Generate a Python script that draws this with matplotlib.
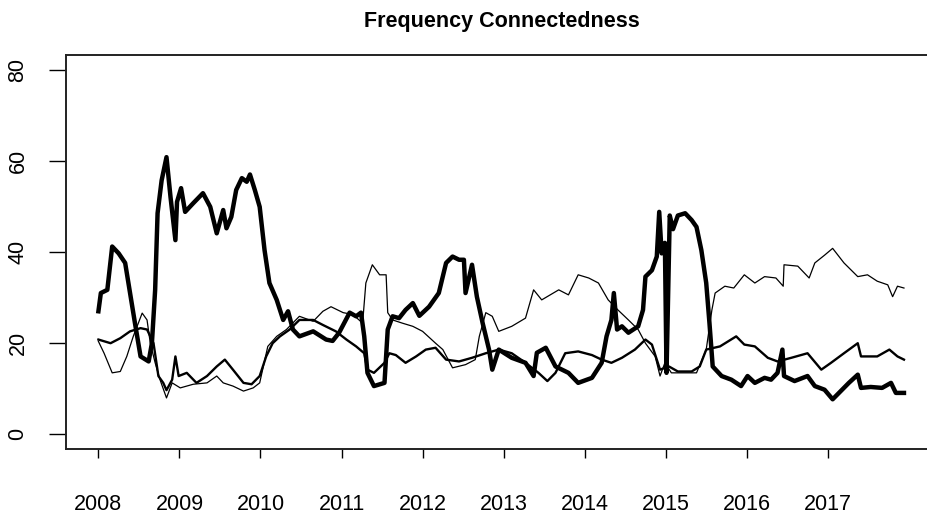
import matplotlib
matplotlib.use("Agg")
import matplotlib.pyplot as plt

plt.rcParams['font.family'] = ['Liberation Sans', 'DejaVu Sans']

# ---- data (decimal year, value) ----
thick_t = [2008.00, 2008.03, 2008.11, 2008.17, 2008.25, 2008.33, 2008.39, 2008.45, 2008.52, 2008.62,
           2008.66, 2008.70, 2008.73, 2008.78, 2008.84, 2008.89, 2008.95, 2008.97, 2009.02, 2009.07,
           2009.17, 2009.29, 2009.38, 2009.46, 2009.54, 2009.58, 2009.64, 2009.70, 2009.77, 2009.83,
           2009.87, 2009.93, 2009.99, 2010.05, 2010.11, 2010.20, 2010.28, 2010.34, 2010.40, 2010.48,
           2010.65, 2010.81, 2010.89, 2010.97, 2011.10, 2011.18, 2011.24, 2011.28, 2011.32, 2011.40,
           2011.53, 2011.57, 2011.63, 2011.71, 2011.79, 2011.88, 2011.96, 2012.08, 2012.20, 2012.29,
           2012.37, 2012.45, 2012.51, 2012.53, 2012.61, 2012.67, 2012.74, 2012.82, 2012.86, 2012.94,
           2013.10, 2013.27, 2013.37, 2013.41, 2013.52, 2013.64, 2013.80, 2013.92, 2014.09, 2014.21,
           2014.27, 2014.33, 2014.36, 2014.40, 2014.46, 2014.54, 2014.66, 2014.72, 2014.75, 2014.83,
           2014.89, 2014.92, 2014.95, 2014.99, 2015.01, 2015.05, 2015.09, 2015.15, 2015.24, 2015.32,
           2015.38, 2015.44, 2015.50, 2015.54, 2015.58, 2015.69, 2015.81, 2015.93, 2016.01, 2016.10,
           2016.22, 2016.30, 2016.38, 2016.44, 2016.46, 2016.59, 2016.75, 2016.84, 2016.96, 2017.06,
           2017.16, 2017.26, 2017.37, 2017.41, 2017.53, 2017.67, 2017.78, 2017.84, 2017.94]
thick_v = [27, 31, 31.7, 41.2, 39.7, 37.6, 31, 24.5, 17.1, 16,
           20, 31.7, 48.5, 55.7, 60.8, 52, 42.6, 51, 54, 48.8,
           50.7, 52.9, 49.9, 44.1, 49.2, 45.2, 47.7, 53.6, 56.2, 55.4,
           57, 53.6, 49.9, 40.4, 33.2, 29.5, 25.1, 27, 23, 21.5,
           22.6, 20.8, 20.5, 22.3, 26.7, 25.9, 26.7, 21.5, 13.5, 10.6,
           11.3, 23, 25.9, 25.5, 27.3, 28.8, 26, 28, 31, 37.6,
           39, 38.3, 38.3, 31, 37.2, 30.2, 24.5, 18.6, 14.2, 18.6,
           16.8, 15.7, 12.8, 17.9, 19, 14.9, 13.5, 11.3, 12.4, 15.7,
           21.5, 25.1, 31, 23, 23.7, 22.3, 23.7, 27.3, 34.6, 36,
           39, 48.8, 39.7, 42, 13.5, 48, 45, 48, 48.5, 47,
           45.5, 40.4, 33.2, 24.4, 14.9, 12.8, 12, 10.6, 12.8, 11.3,
           12.4, 12, 13.5, 18.6, 12.8, 11.7, 12.8, 10.6, 9.8, 7.7,
           9.5, 11.3, 13.1, 10.2, 10.4, 10.2, 11.3, 9.1, 9.1]

medium_t = [2008.00, 2008.15, 2008.27, 2008.39, 2008.52, 2008.60, 2008.68, 2008.74, 2008.80, 2008.84,
            2008.91, 2008.95, 2008.99, 2009.09, 2009.21, 2009.34, 2009.46, 2009.56, 2009.66, 2009.79,
            2009.89, 2009.99, 2010.07, 2010.15, 2010.24, 2010.36, 2010.48, 2010.65, 2010.77, 2010.93,
            2011.06, 2011.18, 2011.28, 2011.32, 2011.40, 2011.53, 2011.59, 2011.67, 2011.79, 2011.92,
            2012.04, 2012.16, 2012.29, 2012.45, 2012.61, 2012.78, 2012.94, 2013.10, 2013.27, 2013.43,
            2013.54, 2013.64, 2013.76, 2013.92, 2014.09, 2014.21, 2014.33, 2014.46, 2014.62, 2014.75,
            2014.83, 2014.93, 2015.04, 2015.15, 2015.32, 2015.42, 2015.50, 2015.67, 2015.77, 2015.87,
            2015.97, 2016.10, 2016.26, 2016.38, 2016.55, 2016.75, 2016.92, 2017.04, 2017.20, 2017.37,
            2017.41, 2017.61, 2017.76, 2017.86, 2017.94]
medium_v = [20.8, 20, 21.1, 22.6, 23.3, 23, 20, 12.8, 11.3, 9.7,
            12, 17.1, 12.8, 13.5, 11.3, 12.8, 14.9, 16.4, 14.2, 11.3,
            11, 12.8, 17.1, 20, 21.5, 23, 25.1, 25.1, 24, 22.6,
            20.8, 19.3, 17.8, 14.2, 13.5, 15.7, 17.8, 17.4, 15.7, 17.1,
            18.6, 19, 16.4, 16, 16.8, 17.8, 18.6, 17.8, 15.7, 13.5,
            11.7, 13.5, 17.8, 18.2, 17.4, 16.4, 15.7, 16.8, 18.6, 20.8,
            19.7, 14.2, 14.9, 13.8, 13.8, 14.9, 18.6, 19.3, 20.4, 21.5,
            19.7, 19.3, 16.8, 16, 16.8, 17.8, 14.2, 15.7, 17.8, 20,
            17.1, 17.1, 18.6, 17.1, 16.4]

thin_t = [2008.00, 2008.07, 2008.17, 2008.27, 2008.35, 2008.43, 2008.54, 2008.60, 2008.64, 2008.70,
          2008.76, 2008.84, 2008.91, 2009.01, 2009.17, 2009.34, 2009.46, 2009.54, 2009.66, 2009.79,
          2009.91, 2009.99, 2010.09, 2010.20, 2010.32, 2010.48, 2010.65, 2010.77, 2010.87, 2011.02,
          2011.14, 2011.26, 2011.30, 2011.38, 2011.47, 2011.55, 2011.57, 2011.63, 2011.75, 2011.88,
          2012.00, 2012.16, 2012.25, 2012.37, 2012.53, 2012.65, 2012.70, 2012.78, 2012.86, 2012.94,
          2013.10, 2013.27, 2013.37, 2013.47, 2013.68, 2013.80, 2013.92, 2014.05, 2014.17, 2014.29,
          2014.41, 2014.54, 2014.66, 2014.75, 2014.87, 2014.93, 2014.99, 2015.07, 2015.24, 2015.38,
          2015.50, 2015.57, 2015.61, 2015.73, 2015.84, 2015.97, 2016.10, 2016.22, 2016.36, 2016.45,
          2016.46, 2016.63, 2016.77, 2016.84, 2016.96, 2017.06, 2017.20, 2017.37, 2017.49, 2017.61,
          2017.74, 2017.80, 2017.86, 2017.94]
thin_v = [20.4, 17.8, 13.5, 13.8, 17.1, 21.5, 26.6, 25.1, 20, 15.7,
          12, 8, 11.3, 10.2, 11, 11.3, 12.8, 11.3, 10.6, 9.5,
          10.2, 11.3, 19.3, 21.5, 23, 25.9, 24.8, 27, 28, 26.7,
          26.3, 24.4, 33.2, 37.2, 35, 35, 26.7, 25.1, 24.4, 23.7,
          22.6, 20, 18.6, 14.6, 15.3, 16.4, 21.5, 26.7, 25.9, 22.6,
          23.7, 25.5, 31.7, 29.5, 31.7, 30.6, 35, 34.3, 33.2, 29.5,
          27.3, 25.1, 23, 20, 17.1, 12.8, 15.7, 13.5, 13.5, 13.5,
          18.6, 27.3, 31, 32.5, 32.1, 35, 33.2, 34.6, 34.3, 32.5,
          37.2, 36.9, 34.3, 37.6, 39.3, 40.8, 37.6, 34.6, 35, 33.6,
          32.8, 30.2, 32.5, 32.1]

year_ticks = list(range(2008, 2018))
y_ticks = [0, 20, 40, 60, 80]

fig = plt.figure(figsize=(9.28, 5.15), dpi=100)
# plot box runs past the right edge of the canvas, as in the reference
ax = fig.add_axes([66 / 928, 66 / 515, 872 / 928, 394 / 515])

ax.plot(thick_t, thick_v, color='black', lw=3.2, solid_joinstyle='round')
ax.plot(medium_t, medium_v, color='black', lw=1.7)
ax.plot(thin_t, thin_v, color='black', lw=0.9)

ax.set_xlim(2007.60, 2018.36)
ax.set_ylim(-3.2, 83.2)

ax.set_xticks(year_ticks)
ax.set_xticklabels([str(y) for y in year_ticks])
ax.set_yticks(y_ticks)
ax.set_yticklabels([str(v) for v in y_ticks], rotation=90, va='center')

ax.tick_params(axis='x', direction='out', length=6.5, width=1.0, pad=26, labelsize=15.5)
ax.tick_params(axis='y', direction='out', length=12, width=1.0, pad=15, labelsize=15.5)

for s in ax.spines.values():
    s.set_linewidth(1.4)
    s.set_color('#222222')

fig.text(502 / 928, 1 - 21 / 515, 'Frequency Connectedness', ha='center', va='center',
         fontsize=15.5, fontweight='bold')

fig.savefig('out.png', dpi=100)
